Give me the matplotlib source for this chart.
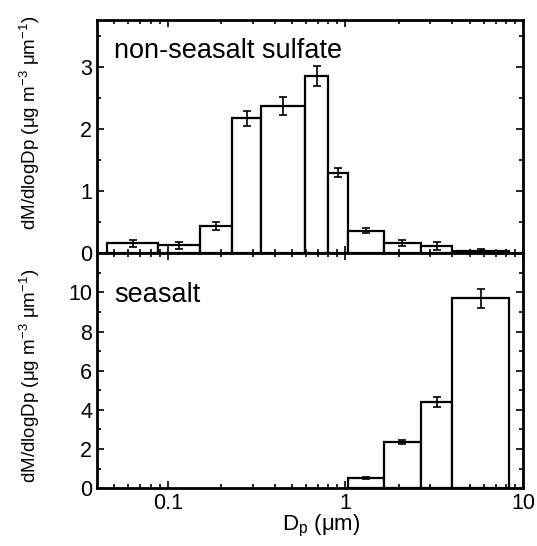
import numpy as np
import matplotlib
matplotlib.use("Agg")
from matplotlib import pyplot as plt
from matplotlib.ticker import MultipleLocator, FixedLocator, NullFormatter

plt.rcParams['font.family'] = ['Liberation Sans', 'DejaVu Sans']
plt.rcParams['mathtext.fontset'] = 'custom'
plt.rcParams['mathtext.rm'] = 'Liberation Sans'
plt.rcParams['mathtext.it'] = 'Liberation Sans'

# bin edges (um)
edges_nss = [0.0456, 0.088, 0.151, 0.231, 0.335, 0.59, 0.80, 1.04, 1.65, 2.66, 4.0, 8.35]
conc_nss = [0.16, 0.13, 0.44, 2.17, 2.37, 2.85, 1.30, 0.36, 0.17, 0.12, 0.04]
err_nss = [0.06, 0.06, 0.07, 0.12, 0.14, 0.16, 0.08, 0.04, 0.05, 0.07, 0.03]

edges_ss = [1.04, 1.65, 2.66, 4.0, 8.35]
conc_ss = [0.5, 2.35, 4.4, 9.7]
err_ss = [0.05, 0.12, 0.25, 0.5]

ylab = 'dM/dlogDp ($\\mathregular{\\mu}$g m$^{-3}$ $\\mathregular{\\mu}$m$^{-1}$)'


def draw_panel(ax, edges, conc, err):
    e = np.array(edges)
    w = e[1:] - e[:-1]
    xc = np.sqrt(e[1:] * e[:-1])
    ax.bar(e[:-1], conc, width=w, align='edge', color='white',
           edgecolor='black', linewidth=1.6)
    ax.errorbar(xc, conc, yerr=err, fmt='none', ecolor='black',
                elinewidth=1.2, capsize=3, capthick=1.2)
    ax.set_xscale('log')
    ax.set_xlim(0.04, 10)
    ax.xaxis.set_major_locator(FixedLocator([0.1, 1, 10]))
    ax.xaxis.set_minor_locator(FixedLocator(
        [k * 10.0 ** p for p in (-2, -1, 0) for k in range(2, 10)]))
    ax.xaxis.set_minor_formatter(NullFormatter())
    ax.tick_params(which='both', direction='in', top=True, right=True,
                   labelsize=15.5, width=1.2)
    ax.tick_params(which='major', length=5)
    ax.tick_params(which='minor', length=3)
    for s in ax.spines.values():
        s.set_linewidth(2)
    ax.set_ylabel(ylab, fontsize=13.5)


fig = plt.figure(figsize=(5.37, 5.46), dpi=100)
ax1 = fig.add_axes([0.181, 0.536, 0.793, 0.427])
ax2 = fig.add_axes([0.181, 0.106, 0.793, 0.430])

draw_panel(ax1, edges_nss, conc_nss, err_nss)
ax1.set_ylim(0, 3.75)
ax1.yaxis.set_major_locator(FixedLocator([0, 1, 2, 3]))
ax1.yaxis.set_minor_locator(MultipleLocator(0.5))
ax1.set_xticklabels([])
ax1.text(0.04, 0.925, 'non-seasalt sulfate', transform=ax1.transAxes,
         fontsize=19.5, va='top', ha='left')
ax1.yaxis.set_label_coords(-0.13, 0.56)

draw_panel(ax2, edges_ss, conc_ss, err_ss)
ax2.set_ylim(0, 12)
ax2.yaxis.set_major_locator(FixedLocator([0, 2, 4, 6, 8, 10]))
ax2.yaxis.set_minor_locator(MultipleLocator(1))
ax2.set_xticklabels(['0.1', '1', '10'])
ax2.set_xlabel('D$_\\mathregular{p}$ ($\\mathregular{\\mu}$m)', fontsize=16)
ax2.xaxis.set_label_coords(0.525, -0.105)
ax2.text(0.04, 0.88, 'seasalt', transform=ax2.transAxes,
         fontsize=19.5, va='top', ha='left')
ax2.yaxis.set_label_coords(-0.13, 0.48)

fig.savefig('out.png', dpi=100)
